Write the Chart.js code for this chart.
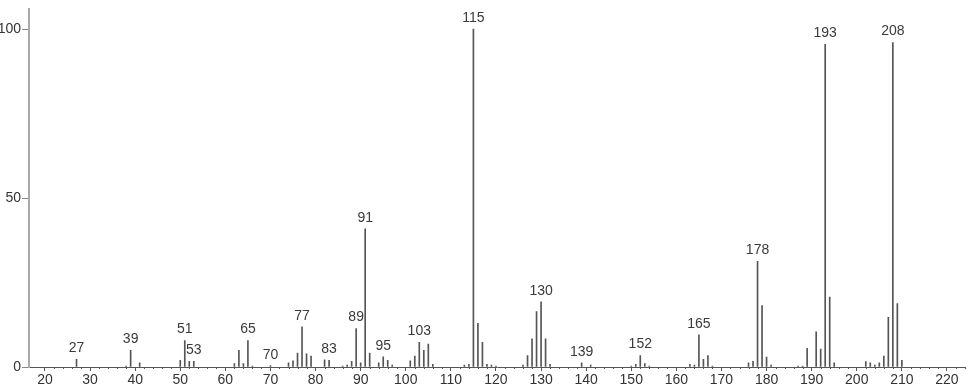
<!DOCTYPE html>
<html>
<head>
<meta charset="utf-8">
<script src="https://cdn.jsdelivr.net/npm/chart.js@4"></script>
<style>
  html, body { margin: 0; padding: 0; background: #fff; }
  #wrap { width: 966px; height: 389px; }
</style>
</head>
<body>
<div id="wrap"><canvas id="ms-chart"></canvas></div>
<script>
// m/z values and relative intensities
const masses = [27, 38, 39, 41, 50, 51, 52, 53, 62, 63, 64, 65, 66, 70, 74, 75, 76, 77, 78, 79,
  82, 83, 86, 87, 88, 89, 90, 91, 92, 94, 95, 96, 97, 101, 102, 103, 104, 105, 106,
  113, 114, 115, 116, 117, 118, 119, 120, 126, 127, 128, 129, 130, 131, 132, 139, 141,
  150, 151, 152, 153, 154, 163, 164, 165, 166, 167, 168, 176, 177, 178, 179, 180, 181,
  187, 188, 189, 191, 192, 193, 194, 195, 202, 203, 204, 205, 206, 207, 208, 209, 210];
const intensities = [2.3, 0.3, 4.9, 1.2, 2.0, 7.8, 1.7, 1.7, 1.0, 4.9, 1.0, 7.8, 0.3, 0.4, 1.2, 1.8, 4.1, 11.9, 3.9, 3.2,
  2.1, 2.0, 0.3, 0.6, 1.7, 11.4, 1.2, 40.9, 4.1, 1.2, 3.0, 2.0, 0.6, 1.8, 3.2, 7.3, 4.9, 6.8, 0.8,
  0.6, 0.8, 100, 12.9, 7.3, 0.8, 0.6, 0.3, 0.6, 3.4, 8.3, 16.4, 19.3, 8.3, 0.8, 1.2, 0.6,
  0.3, 0.8, 3.4, 1.0, 0.3, 0.8, 0.6, 9.5, 2.3, 3.4, 0.3, 1.2, 1.7, 31.3, 18.2, 2.9, 0.6,
  0.3, 0.3, 5.5, 10.4, 5.3, 95.5, 20.7, 1.2, 1.6, 1.2, 0.6, 1.2, 3.2, 14.7, 96.0, 18.8, 2.0];
const labeledMasses = [27, 39, 51, 53, 65, 70, 77, 83, 89, 91, 95, 103, 115, 130, 139, 152, 165, 178, 193, 208];
const yTicks = [0, 50, 100];

const fontFamily = '"Liberation Sans", Arial, sans-serif';

const peakLabels = {
  id: 'peakLabels',
  afterDatasetsDraw(chart) {
    const { ctx, scales } = chart;
    ctx.save();
    ctx.fillStyle = '#3a3a3a';
    ctx.font = '14px ' + fontFamily;
    ctx.textAlign = 'center';
    ctx.textBaseline = 'bottom';
    labeledMasses.forEach((m) => {
      const i = masses.indexOf(m);
      const x = scales.x.getPixelForValue(m);
      const y = scales.y.getPixelForValue(intensities[i]);
      ctx.fillText(String(m), x, y - 4);
    });
    ctx.restore();
  },
};

const minorTicks = {
  id: 'minorTicks',
  afterDraw(chart) {
    const { ctx, scales, chartArea } = chart;
    ctx.save();
    ctx.strokeStyle = '#555';
    ctx.lineWidth = 1;
    scales.x.ticks.forEach((t) => {
      if (t.value % 2 !== 0 || t.value % 10 === 0) return;
      const x = Math.round(scales.x.getPixelForValue(t.value)) + 0.5;
      ctx.beginPath();
      ctx.moveTo(x, chartArea.bottom);
      ctx.lineTo(x, chartArea.bottom + 2);
      ctx.stroke();
    });
    ctx.restore();
  },
};

function loadChart() {
  const ctx = document.getElementById('ms-chart').getContext('2d');
  new Chart(ctx, {
    type: 'bar',
    data: {
      datasets: [
        {
          data: masses.map((m, i) => ({ x: m, y: intensities[i] })),
          backgroundColor: '#555',
          barThickness: 1,
        },
      ],
    },
    options: {
      responsive: true,
      maintainAspectRatio: false,
      animation: false,
      layout: { padding: 0 },
      plugins: {
        legend: { display: false },
        tooltip: { enabled: false },
      },
      scales: {
        x: {
          type: 'linear',
          offset: false,
          min: 16.46,
          max: 224,
          afterFit(s) { s.height = 22; },
          border: { color: '#555', width: 1 },
          grid: {
            offset: false,
            drawOnChartArea: false,
            tickLength: 4,
            tickColor: (c) => (c.tick && c.tick.value % 10 === 0 ? '#555' : 'rgba(0,0,0,0)'),
          },
          ticks: {
            stepSize: 2,
            autoSkip: false,
            maxRotation: 0,
            padding: 1,
            color: '#333',
            font: { family: fontFamily, size: 14 },
            callback: (v) => (v % 10 === 0 ? String(v) : ''),
          },
        },
        y: {
          min: 0,
          max: 105.8,
          afterFit(s) { s.width = 29; },
          border: { color: '#aaa', width: 2 },
          grid: {
            drawOnChartArea: false,
            tickLength: 7,
            tickColor: (c) => (c.tick && yTicks.includes(c.tick.value) ? '#888' : 'rgba(0,0,0,0)'),
          },
          ticks: {
            stepSize: 25,
            includeBounds: false,
            padding: 1,
            color: '#333',
            font: { family: fontFamily, size: 14 },
            callback: (v) => (yTicks.includes(v) ? String(v) : ''),
          },
        },
      },
    },
    plugins: [peakLabels, minorTicks],
  });
}

window.onload = loadChart;
</script>
</body>
</html>
